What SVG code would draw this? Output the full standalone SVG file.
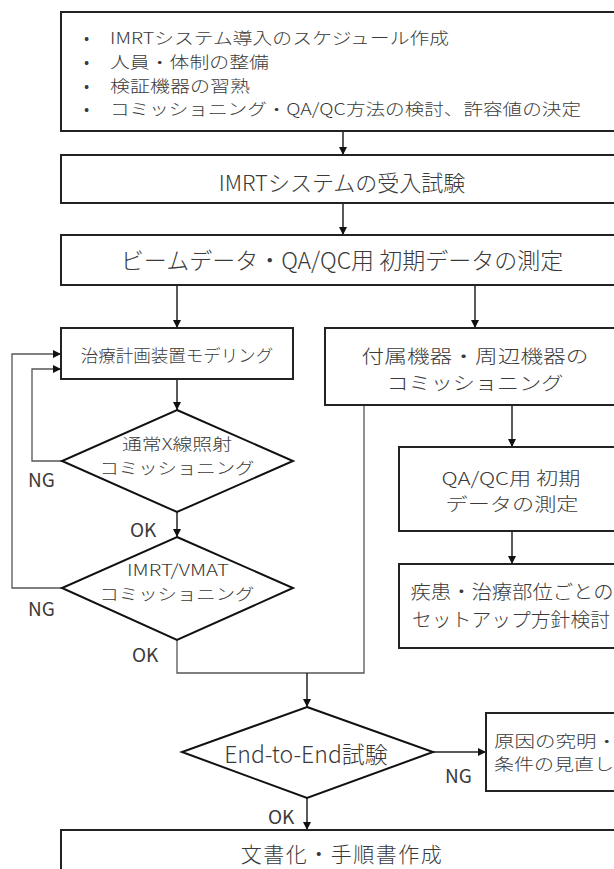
<svg xmlns="http://www.w3.org/2000/svg" width="614" height="869" viewBox="0 0 614 869">
<style>
text{font-family:"Noto Sans CJK JP","Noto Sans",sans-serif;fill:#3a3a3a;dominant-baseline:central;font-weight:300}
.box{fill:#fff;stroke:#222;stroke-width:2}
.dia{fill:#fff;stroke:#111;stroke-width:2}
.c{fill:none;stroke:#222;stroke-width:1.5}
.loop{fill:none;stroke:#555;stroke-width:1.3}
.m{text-anchor:middle}
.b1{font-size:16.4px}
.d{font-size:16.4px}
.lab{font-size:19px;font-weight:400}
</style>
<defs>
<marker id="ah" viewBox="0 0 10 10" refX="10" refY="5" markerWidth="8" markerHeight="8" markerUnits="userSpaceOnUse" orient="auto">
<path d="M0,0 L10,5 L0,10 z" fill="#111"/>
</marker>
</defs>
<rect width="614" height="869" fill="#fff"/>

<g id="connectors">
<path class="c" d="M343,131 V155" marker-end="url(#ah)"/>
<path class="c" d="M343,203 V235" marker-end="url(#ah)"/>
<path class="c" d="M177,285 V328" marker-end="url(#ah)"/>
<path class="c" d="M475,285 V328" marker-end="url(#ah)"/>
<path class="c" d="M177,379 V410" marker-end="url(#ah)"/>
<path class="c" d="M177,512 V537" marker-end="url(#ah)"/>
<path class="loop" d="M62,461 H32 V369 H61" marker-end="url(#ah)"/>
<path class="loop" d="M62,588 H12 V354 H61" marker-end="url(#ah)"/>
<path class="c" d="M512,405 V447" marker-end="url(#ah)"/>
<path class="c" d="M512,531 V564" marker-end="url(#ah)"/>
<path class="loop" d="M364,405 V673 H307"/>
<path class="loop" d="M177,640 V673 H307"/>
<path class="c" d="M307,673 V707" marker-end="url(#ah)"/>
<path class="c" d="M433,752 H486" marker-end="url(#ah)"/>
<path class="c" d="M307,798 V830" marker-end="url(#ah)"/>
</g>

<g id="prep">
<rect class="box" x="61" y="12" width="564" height="119"/>
<text class="b1" x="84" y="37">•</text>
<text class="b1" x="84" y="61">•</text>
<text class="b1" x="84" y="85">•</text>
<text class="b1" x="84" y="108">•</text>
<text class="b1" x="110" y="37" textLength="339" lengthAdjust="spacingAndGlyphs">IMRTシステム導入のスケジュール作成</text>
<text class="b1" x="110" y="61" textLength="159" lengthAdjust="spacingAndGlyphs">人員・体制の整備</text>
<text class="b1" x="110" y="85" textLength="140" lengthAdjust="spacingAndGlyphs">検証機器の習熟</text>
<text class="b1" x="110" y="108" textLength="471" lengthAdjust="spacingAndGlyphs">コミッショニング・QA/QC方法の検討、許容値の決定</text>
</g>

<g id="acceptance">
<rect class="box" x="61" y="155" width="564" height="48"/>
<text class="m" x="342" y="181" font-size="22">IMRTシステムの受入試験</text>
</g>

<g id="beamdata">
<rect class="box" x="61" y="235" width="564" height="50"/>
<text class="m" x="342" y="259" font-size="23">ビームデータ・QA/QC用 初期データの測定</text>
</g>

<g id="modeling">
<rect class="box" x="61" y="328" width="232" height="51"/>
<text class="m" x="177" y="354" font-size="17.5">治療計画装置モデリング</text>
</g>

<g id="accessory">
<rect class="box" x="325" y="328" width="300" height="77"/>
<text class="m" x="475" y="355" font-size="18.5" textLength="227" lengthAdjust="spacingAndGlyphs">付属機器・周辺機器の</text>
<text class="m" x="475" y="382" font-size="18.5" textLength="177" lengthAdjust="spacingAndGlyphs">コミッショニング</text>
</g>

<g id="xray">
<polygon class="dia" points="177,410 293,461 177,512 62,461"/>
<text class="m d" x="177" y="443" textLength="110" lengthAdjust="spacingAndGlyphs">通常X線照射</text>
<text class="m d" x="177" y="467" textLength="155" lengthAdjust="spacingAndGlyphs">コミッショニング</text>
<text class="lab" x="28" y="478">NG</text>
<text class="lab" x="130" y="528">OK</text>
</g>

<g id="imrt">
<polygon class="dia" points="177,537 293,588 177,640 62,588"/>
<text class="m d" x="178" y="569" font-weight="400" textLength="102" lengthAdjust="spacingAndGlyphs">IMRT/VMAT</text>
<text class="m d" x="177" y="593" textLength="155" lengthAdjust="spacingAndGlyphs">コミッショニング</text>
<text class="lab" x="28" y="607">NG</text>
<text class="lab" x="132" y="653">OK</text>
</g>

<g id="qaqc">
<rect class="box" x="399" y="447" width="226" height="84"/>
<text class="m" x="511" y="477" font-size="17.8" textLength="139" lengthAdjust="spacingAndGlyphs">QA/QC用 初期</text>
<text class="m" x="512" y="503" font-size="17.8" textLength="133" lengthAdjust="spacingAndGlyphs">データの測定</text>
</g>

<g id="setup">
<rect class="box" x="399" y="564" width="226" height="84"/>
<text class="m" x="512" y="590" font-size="19" textLength="203" lengthAdjust="spacingAndGlyphs">疾患・治療部位ごとの</text>
<text class="m" x="511" y="618" font-size="19" textLength="198" lengthAdjust="spacingAndGlyphs">セットアップ方針検討</text>
</g>

<g id="e2e">
<polygon class="dia" points="307,707 433,752 307,798 182,752"/>
<text class="m" x="306" y="753" font-size="23" font-weight="400">End-to-End試験</text>
<text class="lab" x="445" y="774">NG</text>
<text class="lab" x="268" y="815">OK</text>
</g>

<g id="cause">
<rect class="box" x="486" y="713" width="150" height="78"/>
<text x="494" y="740" font-size="15.8" textLength="123" lengthAdjust="spacingAndGlyphs">原因の究明・</text>
<text x="494" y="763" font-size="15.8" textLength="120" lengthAdjust="spacingAndGlyphs">条件の見直し</text>
</g>

<g id="document">
<rect class="box" x="61" y="830" width="564" height="60"/>
<text class="m" x="342" y="853" font-size="21" letter-spacing="1.5">文書化・手順書作成</text>
</g>
</svg>
